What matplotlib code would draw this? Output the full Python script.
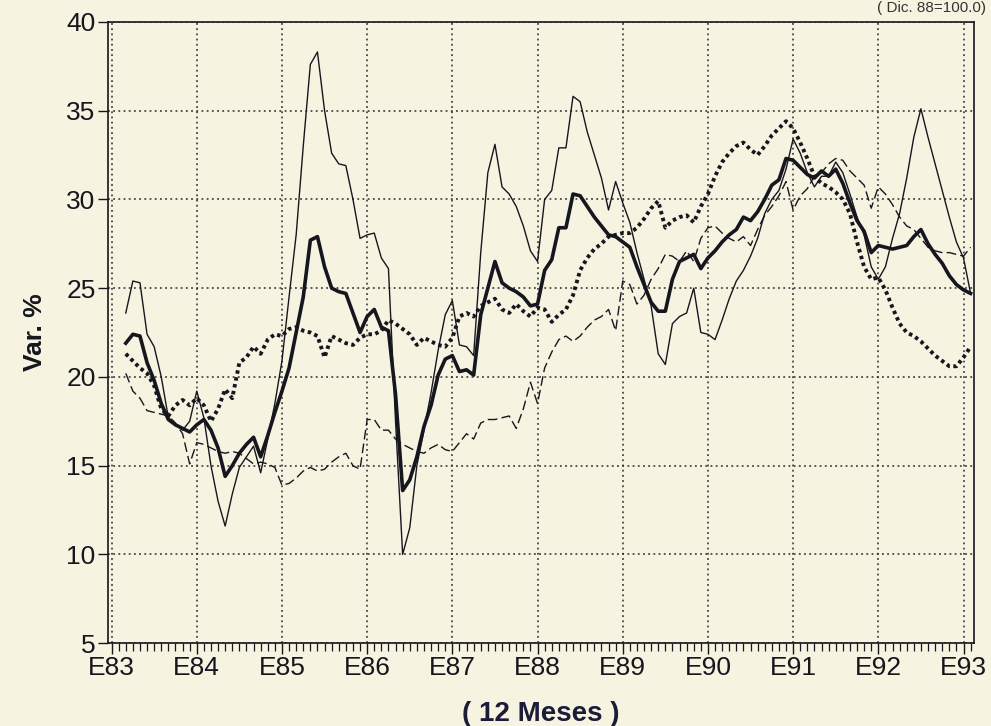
import matplotlib
matplotlib.use("Agg")
import matplotlib.pyplot as plt
from matplotlib.ticker import MultipleLocator

# Month index: 0 = Enero 1983
thin_m = [2, 3, 4, 5, 6, 7, 8, 10, 11, 12, 13, 14, 15, 16, 17, 18, 20, 21, 22, 23, 24, 25, 26, 27, 28, 29, 30,
          31, 32, 33, 34, 35, 36, 37, 38, 39, 40, 41, 42, 43, 44, 45, 46, 47, 48, 49, 50, 51, 52, 53, 54, 55,
          56, 57, 58, 59, 60, 61, 62, 63, 64, 65, 66, 67, 68, 69, 70, 71, 72, 73, 74, 75, 76, 77, 78, 79, 80,
          81, 82, 83, 84, 85, 86, 87, 88, 89, 90, 91, 92, 93, 94, 95, 96, 97, 98, 99, 100, 101, 102, 103, 104,
          105, 106, 107, 108, 109, 110, 111, 112, 113, 114, 115, 116, 117, 118, 119, 120, 121]
thin_v = [23.6, 25.4, 25.3, 22.4, 21.7, 20.0, 17.7, 17.0, 17.5, 19.2, 17.7, 15.0, 13.0, 11.6, 13.4, 14.9, 16.1,
          14.6, 16.5, 18.5, 20.9, 24.5, 28.0, 33.0, 37.6, 38.3, 35.0, 32.6, 32.0, 31.9, 30.0, 27.8, 28.0, 28.1,
          26.7, 26.1, 17.5, 10.0, 11.5, 15.0, 17.0, 19.1, 21.5, 23.5, 24.3, 21.8, 21.7, 21.2, 27.0, 31.5, 33.1,
          30.7, 30.3, 29.6, 28.5, 27.1, 26.5, 30.0, 30.5, 32.9, 32.9, 35.8, 35.5, 33.8, 32.5, 31.2, 29.4, 31.0,
          29.8, 28.7, 27.0, 25.5, 24.0, 21.3, 20.7, 23.0, 23.4, 23.6, 25.0, 22.5, 22.4, 22.1, 23.2, 24.4, 25.4,
          26.0, 26.8, 27.8, 29.2, 30.0, 30.5, 31.7, 33.4, 32.6, 31.5, 30.7, 31.3, 31.3, 32.1, 31.5, 30.3, 29.0,
          28.0, 26.2, 25.5, 26.2, 27.8, 29.2, 31.2, 33.5, 35.1, 33.5, 32.0, 30.5, 29.0, 27.6, 26.7, 24.7]

months = list(range(2, 122))
thick_v = [21.9, 22.4, 22.3, 20.8, 19.8, 18.5, 17.6, 17.3, 17.1, 16.9, 17.3, 17.6, 17.0, 16.0, 14.4, 15.0, 15.7,
           16.2, 16.6, 15.5, 16.7, 18.0, 19.2, 20.5, 22.5, 24.5, 27.7, 27.9, 26.2, 25.0, 24.8, 24.7, 23.6, 22.5,
           23.4, 23.8, 22.8, 22.6, 19.0, 13.6, 14.2, 15.5, 17.2, 18.4, 20.1, 21.0, 21.2, 20.3, 20.4, 20.1, 23.5,
           25.0, 26.5, 25.3, 25.0, 24.8, 24.5, 24.0, 24.1, 26.0, 26.6, 28.4, 28.4, 30.3, 30.2, 29.6, 29.0, 28.5,
           28.0, 27.9, 27.6, 27.3, 26.2, 25.2, 24.2, 23.7, 23.7, 25.5, 26.5, 26.7, 26.9, 26.1, 26.7, 27.1, 27.6,
           28.0, 28.3, 29.0, 28.8, 29.3, 30.0, 30.8, 31.1, 32.3, 32.2, 31.8, 31.4, 31.2, 31.6, 31.3, 31.7, 30.9,
           29.8, 28.8, 28.2, 27.0, 27.4, 27.3, 27.2, 27.3, 27.4, 27.9, 28.3, 27.5, 26.9, 26.4, 25.7, 25.2, 24.9,
           24.7]
dotted_v = [21.3, 20.9, 20.5, 20.2, 19.5, 18.2, 17.8, 18.4, 18.7, 18.4, 18.8, 18.4, 17.5, 18.2, 19.3, 18.8, 20.8,
            21.1, 21.7, 21.3, 22.1, 22.4, 22.3, 22.7, 22.8, 22.6, 22.5, 22.3, 21.1, 22.3, 22.1, 21.9, 21.8, 22.2,
            22.4, 22.4, 22.6, 23.2, 23.0, 22.7, 22.4, 21.8, 22.2, 22.0, 21.8, 21.7, 22.2, 23.4, 23.6, 23.4, 24.0,
            24.2, 24.4, 23.8, 23.6, 24.1, 23.7, 23.4, 23.9, 23.8, 23.1, 23.5, 23.8, 24.6, 26.0, 26.7, 27.2, 27.5,
            27.9, 28.0, 28.1, 28.1, 28.4, 28.9, 29.5, 29.9, 28.4, 28.8, 29.0, 29.1, 28.7, 29.6, 30.3, 31.3, 32.1,
            32.6, 33.0, 33.2, 32.8, 32.5, 33.0, 33.6, 34.0, 34.4, 34.0, 33.2, 32.3, 31.3, 30.9, 30.7, 30.4, 30.0,
            29.2, 27.6, 26.2, 25.5, 25.6, 24.9, 23.9, 23.0, 22.5, 22.3, 22.0, 21.6, 21.2, 20.9, 20.6, 20.6, 21.1,
            21.7]
dashed_v = [20.2, 19.2, 18.8, 18.1, 18.0, 17.9, 17.8, 17.4, 16.8, 15.1, 16.3, 16.2, 16.0, 15.8, 15.7, 15.8, 15.7,
            15.4, 15.1, 15.2, 15.1, 14.9, 13.9, 14.0, 14.3, 14.7, 14.9, 14.7, 14.8, 15.2, 15.5, 15.7, 15.0, 14.8,
            17.6, 17.6, 17.0, 17.0, 16.5, 16.2, 16.0, 15.8, 15.7, 16.0, 16.2, 15.9, 15.8, 16.3, 16.8, 16.5, 17.4,
            17.6, 17.6, 17.7, 17.8, 17.1, 18.2, 19.7, 18.5, 20.5, 21.4, 22.1, 22.3, 22.0, 22.3, 22.8, 23.2, 23.4,
            23.8, 22.6, 25.4, 25.2, 24.1, 24.6, 25.5, 26.1, 26.9, 26.8, 26.5, 27.1, 26.5, 27.8, 28.4, 28.5, 28.1,
            27.8, 27.6, 27.9, 27.4, 28.3, 29.1, 29.6, 30.2, 31.0, 29.4, 30.2, 30.6, 31.3, 31.5, 32.0, 32.3, 32.2,
            31.6, 31.2, 30.8, 29.5, 30.7, 30.3, 29.7, 29.0, 28.5, 28.3, 27.8, 27.3, 27.1, 27.0, 27.0, 26.9, 26.8,
            27.3]

year_ticks = [0, 12, 24, 36, 48, 60, 72, 84, 96, 108, 120]
year_labels = ["E83", "E84", "E85", "E86", "E87", "E88", "E89", "E90", "E91", "E92", "E93"]
y_ticks = [5, 10, 15, 20, 25, 30, 35, 40]

bg = "#f7f3e1"
ink = "#16161f"
plt.rcParams['font.family'] = ['Liberation Sans', 'DejaVu Sans']

fig = plt.figure(figsize=(9.91, 7.26), dpi=100, facecolor=bg)
ax = fig.add_axes([0.109, 0.114, 0.874, 0.856])
ax.set_facecolor(bg)

ax.plot(thin_m, thin_v, color=ink, lw=1.0)
ax.plot(months, dashed_v, color=ink, lw=1.0, linestyle=(0, (7, 3)))
ax.plot(months, dotted_v, color=ink, lw=2.8, linestyle=(0, (0.9, 0.9)))
ax.plot(months, thick_v, color=ink, lw=2.6)

ax.set_xlim(-0.5, 121.5)
ax.set_ylim(5, 40)
ax.set_xticks(year_ticks)
ax.set_xticklabels(year_labels)
ax.xaxis.set_minor_locator(MultipleLocator(1))
ax.set_yticks(y_ticks)
ax.tick_params(axis='x', which='major', length=8, width=1.0, direction='out', labelsize=19, colors=ink, pad=1)
ax.tick_params(axis='x', which='minor', length=6, width=0.9, direction='out', colors=ink)
ax.tick_params(axis='y', which='major', length=7, width=1.0, direction='out', labelsize=19, colors=ink, pad=2)

ax.grid(True, which='major', color='#2a2a30', linestyle=(0, (1.2, 2.2)), linewidth=1.1)
for s in ax.spines.values():
    s.set_color(ink)
    s.set_linewidth(1.2)

ax.set_ylabel("Var. %", fontsize=19, fontweight='bold', color=ink, labelpad=14)
ax.set_xlabel("( 12 Meses )", fontsize=20, fontweight='bold', color="#1b1b3a", labelpad=15)

fig.text(0.995, 0.998, "( Dic. 88=100.0)", ha='right', va='top', fontsize=11, color="#333333")

fig.savefig("out.png", dpi=100, facecolor=bg)
